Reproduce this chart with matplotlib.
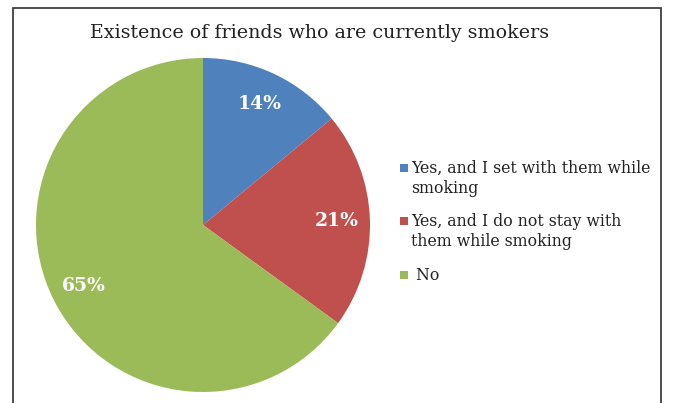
import matplotlib
matplotlib.use("Agg")
import matplotlib.pyplot as plt
from matplotlib.patches import Rectangle

# data
labels = ["Yes, and I set with them while\nsmoking",
          "Yes, and I do not stay with\nthem while smoking",
          " No"]
values = [14, 21, 65]
colors = ["#4F81BD", "#C0504D", "#9BBB59"]
title = "Existence of friends who are currently smokers"

plt.rcParams['font.family'] = ['DejaVu Serif']

W, H = 673, 403
fig = plt.figure(figsize=(W / 100, H / 100), dpi=100)
fig.patch.set_facecolor("white")

# outer frame of the chart
fig.patches.append(Rectangle((13/W, -0.05), 648/W, 1.05 - 8/H,
                             transform=fig.transFigure, fill=False,
                             edgecolor="#303030", linewidth=1.2))

ax = fig.add_axes([36/W, 11/H, 334/W, 334/H])
wedges, texts, autotexts = ax.pie(values, colors=colors, startangle=90,
                                  counterclock=False, autopct="%d%%",
                                  pctdistance=0.8,
                                  wedgeprops=dict(linewidth=0))
for t in autotexts:
    t.set_color("white")
    t.set_fontweight("bold")
    t.set_fontsize(13.5)
ax.set_xlim(-1, 1)
ax.set_ylim(-1, 1)
ax.set_aspect("equal")

fig.text(0.475, 0.918, title, ha="center", va="center", fontsize=13.7,
         color="#222222")

# legend drawn by hand so the marker sits on the first line
baselines = [173, 226, 280]
for lab, col, yb in zip(labels, colors, baselines):
    fig.patches.append(Rectangle((400/W, 1 - (yb - 1)/H), 8/W, 8/H,
                                 transform=fig.transFigure,
                                 facecolor=col, edgecolor="none"))
    for i, line in enumerate(lab.split("\n")):
        fig.text(411/W, 1 - (yb + 20 * i)/H, line, ha="left",
                 va="baseline", fontsize=11.3, color="#222222")

fig.savefig("out.png", dpi=100)
